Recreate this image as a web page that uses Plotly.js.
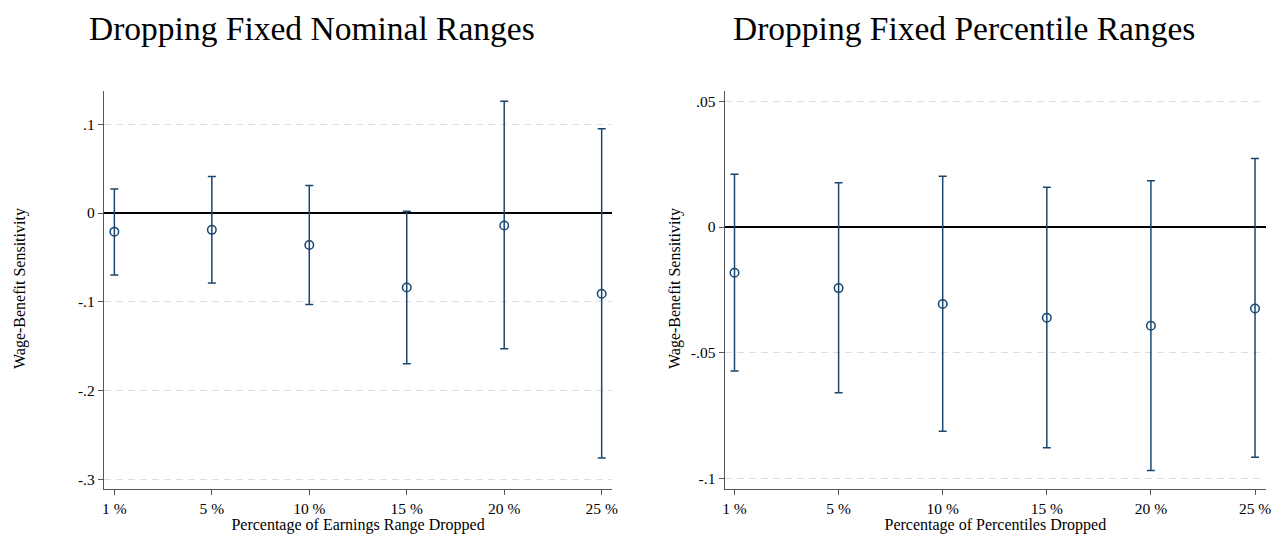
<!DOCTYPE html>
<html><head><meta charset="utf-8">
<script src="https://cdn.plot.ly/plotly-3.0.1.min.js"></script>
<style>html,body{margin:0;padding:0;background:#fff}#chart{width:1275px;height:534px}</style>
</head><body><div id="chart"></div>
<script>
const categories = ["1 %", "5 %", "10 %", "15 %", "20 %", "25 %"];
// Left: dropping fixed nominal ranges
const nominalEst   = [-0.021, -0.019, -0.036, -0.084, -0.014, -0.091];
const nominalUpper = [0.027, 0.041, 0.031, 0.002, 0.126, 0.095];
const nominalLower = [-0.070, -0.079, -0.103, -0.170, -0.153, -0.276];
// Right: dropping fixed percentile ranges
const pctEst   = [-0.0182, -0.0243, -0.0306, -0.0361, -0.0393, -0.0324];
const pctUpper = [0.0210, 0.0176, 0.0202, 0.0158, 0.0184, 0.0272];
const pctLower = [-0.0573, -0.0659, -0.0812, -0.0878, -0.0968, -0.0916];
const leftTicks = [-0.3, -0.2, -0.1, 0, 0.1];
const leftTickText = ["-.3", "-.2", "-.1", "0", ".1"];
const rightTicks = [-0.1, -0.05, 0, 0.05];
const rightTickText = ["-.1", "-.05", "0", ".05"];

const navy = "#1a476f";
const xIdx = categories.map((_, i) => i);
function trace(est, up, lo, xa, ya) {
  return {
    x: xIdx, y: est, xaxis: xa, yaxis: ya, type: "scatter", mode: "markers",
    marker: {symbol: "circle-open", size: 8.5, color: navy, line: {width: 1.5, color: navy}},
    error_y: {type: "data", symmetric: false,
      array: up.map((u, i) => u - est[i]),
      arrayminus: lo.map((l, i) => est[i] - l),
      color: navy, thickness: 1.5, width: 4},
    showlegend: false, hoverinfo: "skip"
  };
}
const serif = "Liberation Serif, Times New Roman, serif";
const tickFont = {family: serif, size: 15.5, color: "#000"};
function xaxis(domain, title, anchor) {
  return {domain: domain, anchor: anchor, range: null, tickmode: "array", tickvals: xIdx, ticktext: categories,
    showgrid: false, zeroline: false, showline: true, linecolor: "#555", linewidth: 1.2,
    ticks: "outside", ticklen: 5, tickcolor: "#555", tickfont: tickFont,
    title: {text: title, font: {family: serif, size: 16, color: "#000"}, standoff: 1}};
}
function yaxis(domain, vals, txt, range, anchor) {
  return {domain: domain, anchor: anchor, range: range, tickmode: "array", tickvals: vals, ticktext: txt,
    showgrid: true, gridcolor: "#dedede", griddash: "7px,5px", gridwidth: 1.3,
    zeroline: true, zerolinecolor: "#000", zerolinewidth: 1.4,
    showline: true, linecolor: "#555", linewidth: 1.2,
    ticks: "outside", ticklen: 5, tickcolor: "#555", tickfont: tickFont};
}
const xa1 = xaxis([0.0816, 0.480], "Percentage of Earnings Range Dropped", "y");
xa1.range = [-0.106, 5.106];
const xa2 = xaxis([0.5684, 0.9929], "Percentage of Percentiles Dropped", "y2");
xa2.range = [-0.094, 5.105];
const ya1 = yaxis([0.0843, 0.8296], leftTicks, leftTickText, [-0.311, 0.1375], "x");
const ya2 = yaxis([0.0843, 0.8296], rightTicks, rightTickText, [-0.1042, 0.0541], "x2");

const layout = {
  width: 1275, height: 534, margin: {l: 0, r: 0, t: 0, b: 0},
  paper_bgcolor: "#fff", plot_bgcolor: "#fff",
  xaxis: xa1, yaxis: ya1, xaxis2: xa2, yaxis2: ya2,
  annotations: [
    {text: "Dropping Fixed Nominal Ranges", xref: "paper", yref: "paper", x: 312/1275, y: 1 - 28/534,
     showarrow: false, xanchor: "center", yanchor: "middle", font: {family: serif, size: 33.5, color: "#000"}},
    {text: "Dropping Fixed Percentile Ranges", xref: "paper", yref: "paper", x: 964/1275, y: 1 - 28/534,
     showarrow: false, xanchor: "center", yanchor: "middle", font: {family: serif, size: 33.5, color: "#000"}},
    {text: "Wage-Benefit Sensitivity", xref: "paper", yref: "paper", x: 20/1275, y: 1 - 289/534, textangle: -90,
     showarrow: false, xanchor: "center", yanchor: "middle", font: {family: serif, size: 16, color: "#000"}},
    {text: "Wage-Benefit Sensitivity", xref: "paper", yref: "paper", x: 675/1275, y: 1 - 289/534, textangle: -90,
     showarrow: false, xanchor: "center", yanchor: "middle", font: {family: serif, size: 16, color: "#000"}}
  ]
};
Plotly.newPlot("chart", [trace(nominalEst, nominalUpper, nominalLower, "x", "y"),
  trace(pctEst, pctUpper, pctLower, "x2", "y2")], layout, {displayModeBar: false, staticPlot: true});
</script></body></html>
